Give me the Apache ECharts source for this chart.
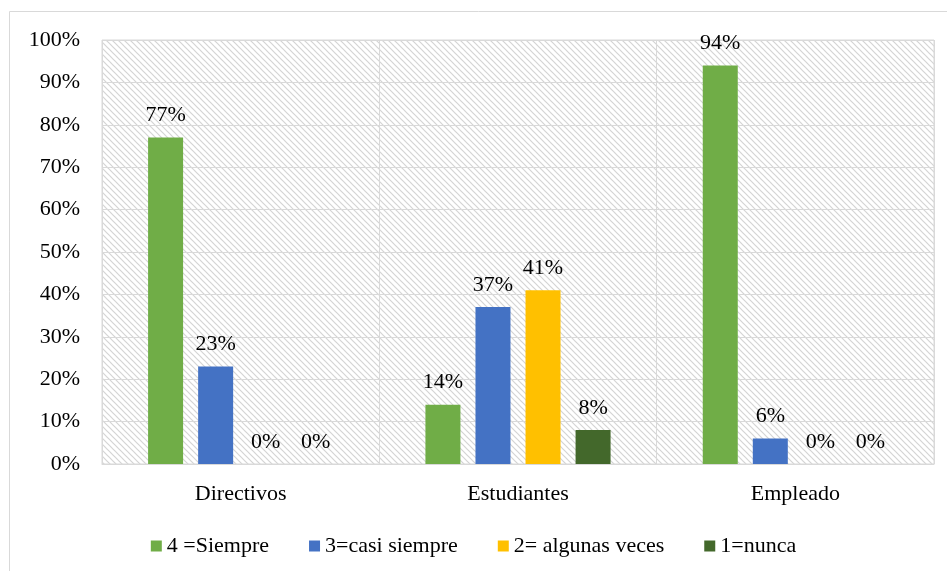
<!DOCTYPE html>
<html><head><meta charset="utf-8">
<script src="https://cdn.jsdelivr.net/npm/echarts@6/dist/echarts.min.js"></script>
<style>html,body{margin:0;padding:0;background:#fff}#c{width:947px;height:571px}</style>
</head><body><div id="c"></div>
<script>
const categories = ['Directivos', 'Estudiantes', 'Empleado'];
const seriesNames = ['4 =Siempre', '3=casi siempre', '2= algunas veces', '1=nunca'];
const siempre = [77, 14, 94];
const casiSiempre = [23, 37, 6];
const algunasVeces = [0, 41, 0];
const nunca = [0, 8, 0];
const yTicks = [0, 10, 20, 30, 40, 50, 60, 70, 80, 90, 100];
const colors = ['#70AD47', '#4472C4', '#FFC000', '#43682B'];

const pc = document.createElement('canvas');
pc.width = 6; pc.height = 6;
const g = pc.getContext('2d');
g.fillStyle = '#ffffff'; g.fillRect(0,0,6,6);
g.strokeStyle = '#d4d4d4'; g.lineWidth = 1.2;
g.beginPath(); g.moveTo(-1,-1); g.lineTo(7,7); g.stroke();
g.beginPath(); g.moveTo(-1,5); g.lineTo(1,7); g.stroke();
g.beginPath(); g.moveTo(5,-1); g.lineTo(7,1); g.stroke();

const font = '"Liberation Serif", "Times New Roman", serif';
const fs = 22;
const chart = echarts.init(document.getElementById('c'));
const dataArr = [siempre, casiSiempre, algunasVeces, nunca];
chart.setOption({
  animation: false,
  textStyle: {fontFamily: font},
  graphic: [{type:'rect', shape:{x:9.5, y:11.5, width:960, height:600}, style:{fill:'none', stroke:'#d9d9d9', lineWidth:1}, z:-10}],
  grid: {left: 102, right: 13, top: 40, bottom: 107, show: true, backgroundColor: {image: pc, repeat: 'repeat'}, borderColor: '#d9d9d9', borderWidth: 1},
  legend: {bottom: 9, left: 'center', itemWidth: 11, itemHeight: 11, itemGap: 40, icon: 'rect',
    textStyle: {fontFamily: font, fontSize: fs, color: '#000'}, data: seriesNames},
  xAxis: {type: 'category', data: categories,
    axisLine: {show: true, lineStyle: {color: '#d9d9d9'}}, axisTick: {show: false},
    axisLabel: {fontFamily: font, fontSize: fs, color: '#000', margin: 19},
    splitLine: {show: true, lineStyle: {color: '#d9d9d9', width: 1}}},
  yAxis: {type: 'value', min: 0, max: 100, interval: 10,
    axisLine: {show: false}, axisTick: {show: false},
    axisLabel: {fontFamily: font, fontSize: fs, color: '#000', margin: 22, formatter: v => yTicks.includes(v) ? v + '%' : ''},
    splitLine: {lineStyle: {color: '#d9d9d9', width: 1}}},
  series: seriesNames.map((n, i) => ({
    name: n, type: 'bar', data: dataArr[i], barWidth: 35, barGap: '43%', barCategoryGap: '33%',
    itemStyle: {color: colors[i]},
    label: {show: true, position: 'top', distance: 11, formatter: '{c}%', fontFamily: font, fontSize: fs, color: '#000'}
  }))
});
</script></body></html>
